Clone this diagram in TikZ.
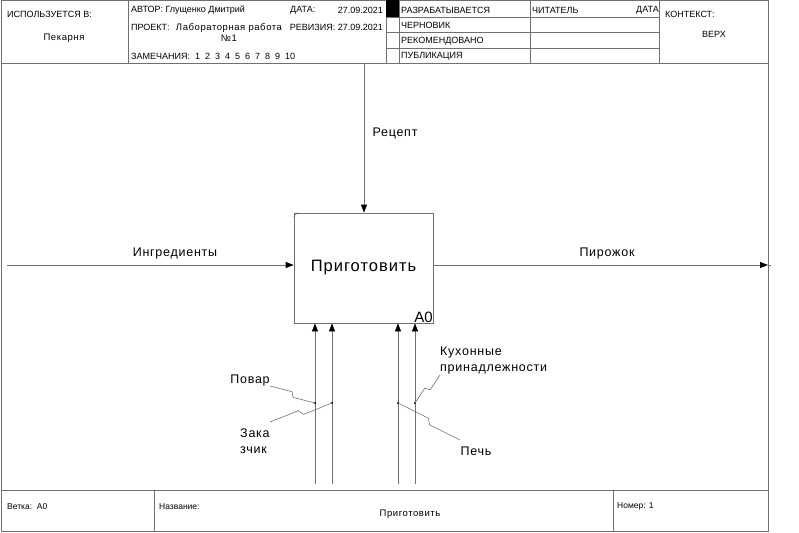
\documentclass[tikz,border=0pt]{standalone}
\usepackage{fontspec}
\setmainfont{Liberation Sans}
\newfontfamily\lblfont[LetterSpace=6]{Liberation Sans}
\usetikzlibrary{arrows.meta,calc}
\definecolor{ln}{RGB}{112,112,112}
\begin{document}
\begin{tikzpicture}[x=1pt,y=-1pt,
  frame/.style={draw=ln, line width=0.8pt},
  arr/.style={draw=ln, line width=0.8pt, -{Triangle[length=8pt,width=6pt,color=black]}},
  lbl/.style={font=\lblfont\fontsize{12.5}{16}\selectfont, inner sep=0},
  hdr/.style={font=\fontsize{9}{10}\selectfont, inner sep=0, anchor=west},
  ftr/.style={font=\fontsize{8.5}{10}\selectfont, inner sep=0, anchor=west},
  squig/.style={draw=ln, line width=0.6pt, to path={-- ($(\tikztostart)!0.47!(\tikztotarget)!2.5pt!90:(\tikztotarget)$) -- ($(\tikztostart)!0.53!(\tikztotarget)!2.5pt!-90:(\tikztotarget)$) -- (\tikztotarget)}},
  dot/.style={circle, fill=black, inner sep=0, minimum size=2.4pt}]
\useasboundingbox (0,0) rectangle (799,532);
% frame
\draw[frame] (1,0.5) rectangle (768,531);
\draw[frame] (1,63) -- (768,63);
\draw[frame] (1,490) -- (768,490);
\foreach \x in {128,386,399,530,659} \draw[frame] (\x,0.5) -- (\x,63);
\foreach \y in {17,32,48} \draw[frame] (386,\y) -- (659,\y);
\fill[black] (386,0.5) rectangle (399,17);
\foreach \x in {154,613} \draw[frame] (\x,490) -- (\x,531);
% header text
\node[hdr] (usedin) at (7,14) {ИСПОЛЬЗУЕТСЯ В:};
\node[hdr,anchor=center,font=\lblfont\fontsize{9.5}{10}\selectfont] (bakery) at (64,38) {Пекарня};
\node[hdr] (author) at (131,10) {АВТОР: Глущенко Дмитрий};
\node[hdr] (date) at (290,10) {ДАТА:};
\node[hdr,anchor=east] (dateval) at (383,10) {27.09.2021};
\node[hdr] (proj) at (131,27) {ПРОЕКТ:};
\node[font=\lblfont\fontsize{9.5}{10.5}\selectfont, align=center, inner sep=0] (projname) at (229,32.5) {Лабораторная работа\\№1};
\node[hdr,anchor=east] (rev) at (383,27) {РЕВИЗИЯ: 27.09.2021};
\node[hdr] (notes) at (131,56) {ЗАМЕЧАНИЯ:\ \ 1\ \ 2\ \ 3\ \ 4\ \ 5\ \ 6\ \ 7\ \ 8\ \ 9\ \ 10};
\node[hdr] (st1) at (401,10) {РАЗРАБАТЫВАЕТСЯ};
\node[hdr] (st2) at (401,25) {ЧЕРНОВИК};
\node[hdr] (st3) at (401,41) {РЕКОМЕНДОВАНО};
\node[hdr] (st4) at (401,56) {ПУБЛИКАЦИЯ};
\node[hdr] (reader) at (532,10) {ЧИТАТЕЛЬ};
\node[hdr,anchor=east] (rdate) at (659,10) {ДАТА};
\node[hdr] (ctx) at (665,14) {КОНТЕКСТ:};
\node[hdr,anchor=center] (top) at (714,34) {ВЕРХ};
% footer text
\node[ftr] (branch) at (7,507) {Ветка:\ \ A0};
\node[ftr] (title) at (159,507) {Название:};
\node[ftr,anchor=center,font=\lblfont\fontsize{9.5}{10}\selectfont] (titleval) at (410,514) {Приготовить};
\node[ftr] (num) at (617,506) {Номер: 1};
% main box
\node[draw=ln, line width=0.8pt, minimum width=139pt, minimum height=110pt, inner sep=0,
      font=\lblfont\fontsize{16.5}{18}\selectfont] (box) at (363.5,268) {Приготовить};
\draw[ln, line width=0.6pt] ($(box.north west)+(0,4)$) -- ($(box.north west)+(4,0)$);
\node[font=\fontsize{15}{15}\selectfont, anchor=south east, inner sep=0.5pt] (a0) at (box.south east) {A0};
% control
\coordinate (ctl) at (364,63);
\draw[arr] (ctl) -- (ctl |- box.north);
\node[lbl] (recipe) at (395,133) {Рецепт};
% input
\coordinate (inS) at (7,265);
\draw[arr] (inS) -- (inS -| box.west);
\node[lbl] (ingr) at (175,253) {Ингредиенты};
% output
\coordinate (outE) at (768,265);
\coordinate (outStub) at (771,265);
\draw[arr] (outE -| box.east) -- (outE);
\draw[ln, line width=0.8pt] (outE) -- (outStub);
\node[lbl] (pie) at (607,253) {Пирожок};
% mechanisms
\coordinate (m1) at (315,484);
\coordinate (m2) at (332,484);
\coordinate (m3) at (398,484);
\coordinate (m4) at (415,484);
\foreach \m in {m1,m2,m3,m4} \draw[arr] (\m) -- (\m |- box.south);
\node[dot] (d1) at (315,403) {};
\node[dot] (d2) at (332,403) {};
\node[dot] (d3) at (398,403) {};
\node[dot] (d4) at (415,403) {};
% mechanism labels
\node[lbl] (cook) at (250,380) {Повар};
\node[lbl, align=left, anchor=west] (client) at (240,441.5) {Зака\\зчик};
\node[lbl, align=left, anchor=west] (utens) at (440,360) {Кухонные\\принадлежности};
\node[lbl] (oven) at (476,451) {Печь};
\coordinate (s1) at (270,386);
\coordinate (s2) at (270,422);
\coordinate (s3) at (440,375);
\coordinate (s4) at (460,440);
\draw[squig] (s1) to (d1.center);
\draw[squig] (s2) to (d2.center);
\draw[squig] (s3) to (d4.center);
\draw[squig] (d3.center) to (s4);
\end{tikzpicture}
\end{document}
